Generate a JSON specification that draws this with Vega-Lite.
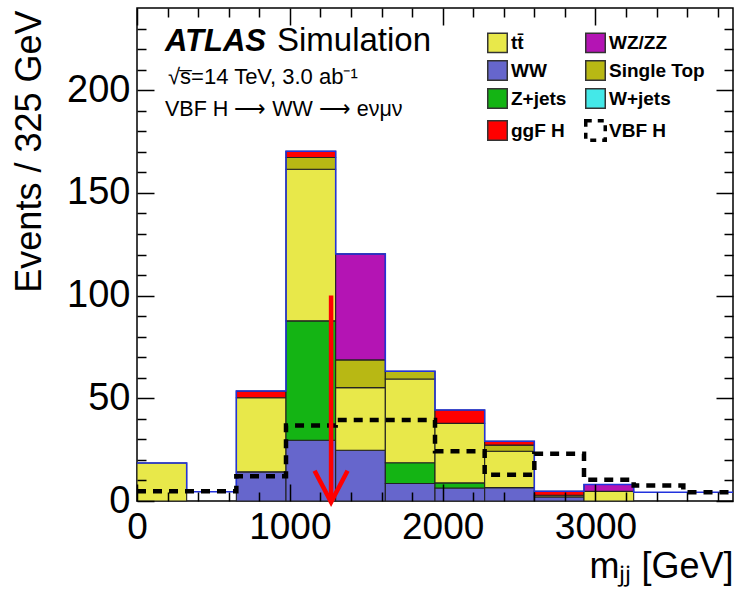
{
  "$schema": "https://vega.github.io/schema/vega-lite/v6.json",
  "width": 596,
  "height": 493,
  "autosize": "none",
  "padding": {"left": 137, "top": 8, "right": 4, "bottom": 93},
  "background": "white",
  "datasets": {
    "stack": [
      {"lo": 0, "hi": 325, "process": "tt̄", "ord": 3, "n": 18.5},
      {"lo": 650, "hi": 975, "process": "WW", "ord": 1, "n": 14.2},
      {"lo": 650, "hi": 975, "process": "tt̄", "ord": 3, "n": 36.1},
      {"lo": 650, "hi": 975, "process": "ggF H", "ord": 7, "n": 3.2},
      {"lo": 975, "hi": 1300, "process": "WW", "ord": 1, "n": 29.6},
      {"lo": 975, "hi": 1300, "process": "Z+jets", "ord": 2, "n": 58.1},
      {"lo": 975, "hi": 1300, "process": "tt̄", "ord": 3, "n": 73.8},
      {"lo": 975, "hi": 1300, "process": "Single Top", "ord": 4, "n": 5.7},
      {"lo": 975, "hi": 1300, "process": "ggF H", "ord": 7, "n": 3.1},
      {"lo": 1300, "hi": 1625, "process": "WW", "ord": 1, "n": 24.7},
      {"lo": 1300, "hi": 1625, "process": "tt̄", "ord": 3, "n": 30.5},
      {"lo": 1300, "hi": 1625, "process": "Single Top", "ord": 4, "n": 13.5},
      {"lo": 1300, "hi": 1625, "process": "WZ/ZZ", "ord": 6, "n": 51.6},
      {"lo": 1625, "hi": 1950, "process": "WW", "ord": 1, "n": 8.5},
      {"lo": 1625, "hi": 1950, "process": "Z+jets", "ord": 2, "n": 10.1},
      {"lo": 1625, "hi": 1950, "process": "tt̄", "ord": 3, "n": 40.8},
      {"lo": 1625, "hi": 1950, "process": "Single Top", "ord": 4, "n": 3.8},
      {"lo": 1950, "hi": 2275, "process": "WW", "ord": 1, "n": 6.3},
      {"lo": 1950, "hi": 2275, "process": "Z+jets", "ord": 2, "n": 2.5},
      {"lo": 1950, "hi": 2275, "process": "tt̄", "ord": 3, "n": 29.0},
      {"lo": 1950, "hi": 2275, "process": "ggF H", "ord": 7, "n": 6.5},
      {"lo": 2275, "hi": 2600, "process": "WW", "ord": 1, "n": 6.5},
      {"lo": 2275, "hi": 2600, "process": "tt̄", "ord": 3, "n": 17.7},
      {"lo": 2275, "hi": 2600, "process": "Single Top", "ord": 4, "n": 3.0},
      {"lo": 2275, "hi": 2600, "process": "ggF H", "ord": 7, "n": 1.9},
      {"lo": 2600, "hi": 2925, "process": "WW", "ord": 1, "n": 2.0},
      {"lo": 2600, "hi": 2925, "process": "tt̄", "ord": 3, "n": 0.8},
      {"lo": 2600, "hi": 2925, "process": "ggF H", "ord": 7, "n": 1.9},
      {"lo": 2925, "hi": 3250, "process": "tt̄", "ord": 3, "n": 4.7},
      {"lo": 2925, "hi": 3250, "process": "WZ/ZZ", "ord": 6, "n": 3.3}
    ],
    "outline": [
      {"lo": 0, "n": 18.5}, {"lo": 325, "n": 4.5}, {"lo": 650, "n": 53.5},
      {"lo": 975, "n": 170.3}, {"lo": 1300, "n": 120.3}, {"lo": 1625, "n": 63.2},
      {"lo": 1950, "n": 44.3}, {"lo": 2275, "n": 29.1}, {"lo": 2600, "n": 4.7},
      {"lo": 2925, "n": 8.0}, {"lo": 3250, "n": 4.2}, {"lo": 3575, "n": 4.2},
      {"lo": 3900, "n": 4.2}
    ],
    "vbf": [
      {"lo": 0, "n": 4.7}, {"lo": 325, "n": 4.7}, {"lo": 650, "n": 12.0},
      {"lo": 975, "n": 36.8}, {"lo": 1300, "n": 39.4}, {"lo": 1625, "n": 39.4},
      {"lo": 1950, "n": 24.2}, {"lo": 2275, "n": 12.8}, {"lo": 2600, "n": 23.0},
      {"lo": 2925, "n": 10.4}, {"lo": 3250, "n": 7.5}, {"lo": 3575, "n": 4.2},
      {"lo": 3900, "n": 4.2}
    ]
  },
  "resolve": {"axis": {"x": "independent", "y": "independent"}},
  "layer": [
    {
      "data": {"name": "stack"},
      "transform": [
        {"stack": "n", "groupby": ["lo"], "sort": [{"field": "ord", "order": "ascending"}], "as": ["y0", "y1"]}
      ],
      "mark": {"type": "bar", "stroke": "#222", "strokeWidth": 1.1, "opacity": 1},
      "encoding": {
        "x": {"field": "lo", "type": "quantitative",
              "scale": {"domain": [0, 3900], "nice": false, "zero": false},
              "axis": {"orient": "bottom", "values": [0, 1000, 2000, 3000], "format": "d", "ticks": false, "domain": false, "grid": false,
                       "labelPadding": 8, "labelFont": "Liberation Sans", "labelFontSize": 37, "labelColor": "black",
                       "labelBaseline": "top", "title": "mⱼⱼ [GeV]", "titleAnchor": "end", "titleAlign": "right",
                       "titleFont": "Liberation Sans", "titleFontSize": 36, "titleFontWeight": "normal", "titleColor": "black",
                       "titleBaseline": "alphabetic", "titleX": 596, "titleY": 76, "labelFlush": false}},
        "x2": {"field": "hi"},
        "y": {"field": "y1", "type": "quantitative",
              "scale": {"domain": [0, 240], "nice": false},
              "axis": {"orient": "left", "values": [0, 50, 100, 150, 200], "format": "d", "ticks": false, "domain": false, "grid": false,
                       "labelPadding": 7, "labelFont": "Liberation Sans", "labelFontSize": 38, "labelColor": "black",
                       "title": "Events / 325 GeV", "titleAngle": -90, "titleAlign": "right", "titleBaseline": "alphabetic",
                       "titleFont": "Liberation Sans", "titleFontSize": 36, "titleFontWeight": "normal", "titleColor": "black",
                       "titleX": -97, "titleY": 2, "labelFlush": false}},
        "y2": {"field": "y0"},
        "color": {
          "field": "process", "type": "nominal",
          "scale": {
            "domain": ["tt̄", "WW", "Z+jets", "ggF H", "WZ/ZZ", "Single Top", "W+jets", "VBF H"],
            "range": ["#e8e84a", "#6666cc", "#14b414", "#ff0000", "#b414b4", "#b8b814", "#44e8e8", "transparent"]
          },
          "legend": {
            "orient": "none", "legendX": 351, "legendY": 25, "columns": 2, "title": null,
            "symbolType": "square", "symbolSize": 380, "labelFont": "Liberation Sans", "labelFontSize": 19,
            "labelFontWeight": "bold", "labelColor": "black", "rowPadding": 1, "columnPadding": 11,
            "labelOffset": 4, "symbolStrokeColor": "#333", "symbolStrokeWidth": 1.5, "symbolOpacity": 1, "padding": 0,
            "encode": {
              "symbols": {
                "update": {
                  "stroke": {"signal": "datum.value === 'VBF H' ? '#000' : '#333'"},
                  "strokeWidth": {"signal": "datum.value === 'VBF H' ? 3.5 : 1.5"},
                  "strokeDash": {"signal": "datum.value === 'VBF H' ? [6, 6] : [1, 0]"}
                }
              }
            }
          }
        }
      }
    },
    {
      "data": {"name": "outline"},
      "mark": {"type": "line", "interpolate": "step-after", "stroke": "#2233dd", "strokeWidth": 1.5},
      "encoding": {
        "x": {"field": "lo", "type": "quantitative", "scale": {"domain": [0, 3900], "nice": false, "zero": false},
              "axis": {"orient": "bottom", "values": [0, 1000, 2000, 3000], "labels": false, "ticks": true, "domain": false, "grid": false,
                       "tickSize": -17, "tickColor": "black", "tickWidth": 1.5, "title": null, "zindex": 1}},
        "y": {"field": "n", "type": "quantitative", "scale": {"domain": [0, 240], "nice": false},
              "axis": {"orient": "left", "values": [0, 50, 100, 150, 200], "labels": false, "ticks": true, "domain": false, "grid": false,
                       "tickSize": -17, "tickColor": "black", "tickWidth": 1.5, "title": null, "zindex": 1}}
      }
    },
    {
      "data": {"name": "vbf"},
      "mark": {"type": "line", "interpolate": "step-after", "stroke": "black", "strokeWidth": 4.5, "strokeDash": [9, 7]},
      "encoding": {
        "x": {"field": "lo", "type": "quantitative", "scale": {"domain": [0, 3900], "nice": false, "zero": false},
              "axis": {"orient": "bottom", "values": [200, 400, 600, 800, 1200, 1400, 1600, 1800, 2200, 2400, 2600, 2800, 3200, 3400, 3600, 3800],
                       "labels": false, "ticks": true, "domain": false, "grid": false,
                       "tickSize": -9, "tickColor": "black", "tickWidth": 1.5, "title": null, "zindex": 1}},
        "y": {"field": "n", "type": "quantitative", "scale": {"domain": [0, 240], "nice": false},
              "axis": {"orient": "left", "values": [10, 20, 30, 40, 60, 70, 80, 90, 110, 120, 130, 140, 160, 170, 180, 190, 210, 220, 230],
                       "labels": false, "ticks": true, "domain": false, "grid": false,
                       "tickSize": -9, "tickColor": "black", "tickWidth": 1.5, "title": null, "zindex": 1}}
      }
    },
    {
      "data": {"values": [{}]},
      "mark": {"type": "rule", "stroke": "#ff0000", "strokeWidth": 4.5},
      "encoding": {
        "x": {"datum": 1270, "type": "quantitative", "scale": {"domain": [0, 3900], "nice": false, "zero": false},
              "axis": {"orient": "top", "values": [0, 1000, 2000, 3000], "labels": false, "ticks": true, "domain": false, "grid": false,
                       "tickSize": -17, "tickColor": "black", "tickWidth": 1.5, "title": null, "zindex": 1}},
        "y": {"datum": 100, "type": "quantitative", "scale": {"domain": [0, 240], "nice": false},
              "axis": {"orient": "right", "values": [0, 50, 100, 150, 200], "labels": false, "ticks": true, "domain": false, "grid": false,
                       "tickSize": -17, "tickColor": "black", "tickWidth": 1.5, "title": null, "zindex": 1}},
        "y2": {"datum": 0}
      }
    },
    {
      "data": {"values": [{}]},
      "mark": {"type": "point", "shape": "M-1,-0.9L0,1L1,-0.9", "size": 1089, "filled": false, "stroke": "#ff0000", "strokeWidth": 4.5, "opacity": 1},
      "encoding": {
        "x": {"datum": 1270, "type": "quantitative", "scale": {"domain": [0, 3900], "nice": false, "zero": false},
              "axis": {"orient": "top", "values": [200, 400, 600, 800, 1200, 1400, 1600, 1800, 2200, 2400, 2600, 2800, 3200, 3400, 3600, 3800],
                       "labels": false, "ticks": true, "domain": false, "grid": false,
                       "tickSize": -9, "tickColor": "black", "tickWidth": 1.5, "title": null, "zindex": 1}},
        "y": {"datum": 7.5, "type": "quantitative", "scale": {"domain": [0, 240], "nice": false},
              "axis": {"orient": "right", "values": [10, 20, 30, 40, 60, 70, 80, 90, 110, 120, 130, 140, 160, 170, 180, 190, 210, 220, 230],
                       "labels": false, "ticks": true, "domain": false, "grid": false,
                       "tickSize": -9, "tickColor": "black", "tickWidth": 1.5, "title": null, "zindex": 1}}
      }
    },
    {
      "data": {"values": [{}]},
      "mark": {"type": "text", "text": "ATLAS", "font": "Liberation Sans", "fontSize": 31, "fontWeight": "bold", "fontStyle": "italic", "align": "left", "baseline": "alphabetic", "color": "black"},
      "encoding": {
        "x": {"datum": 183, "type": "quantitative", "axis": null},
        "y": {"datum": 219, "type": "quantitative", "axis": null}
      }
    },
    {
      "data": {"values": [{}]},
      "mark": {"type": "text", "text": "Simulation", "font": "Liberation Sans", "fontSize": 33, "align": "left", "baseline": "alphabetic", "color": "black"},
      "encoding": {
        "x": {"datum": 916, "type": "quantitative", "axis": null},
        "y": {"datum": 219, "type": "quantitative", "axis": null}
      }
    },
    {
      "data": {"values": [{}]},
      "mark": {"type": "text", "text": "√s̅=14 TeV, 3.0 ab⁻¹", "font": "Liberation Sans", "fontSize": 22, "align": "left", "baseline": "alphabetic", "color": "black"},
      "encoding": {
        "x": {"datum": 203, "type": "quantitative", "axis": null},
        "y": {"datum": 203, "type": "quantitative", "axis": null}
      }
    },
    {
      "data": {"values": [{}]},
      "mark": {"type": "text", "text": "VBF H ⟶ WW ⟶ eνμν", "font": "Liberation Sans", "fontSize": 21.5, "align": "left", "baseline": "alphabetic", "color": "black"},
      "encoding": {
        "x": {"datum": 183, "type": "quantitative", "axis": null},
        "y": {"datum": 187.6, "type": "quantitative", "axis": null}
      }
    }
  ],
  "config": {
    "view": {"stroke": "black", "strokeWidth": 1.5},
    "font": "Liberation Sans"
  }
}
